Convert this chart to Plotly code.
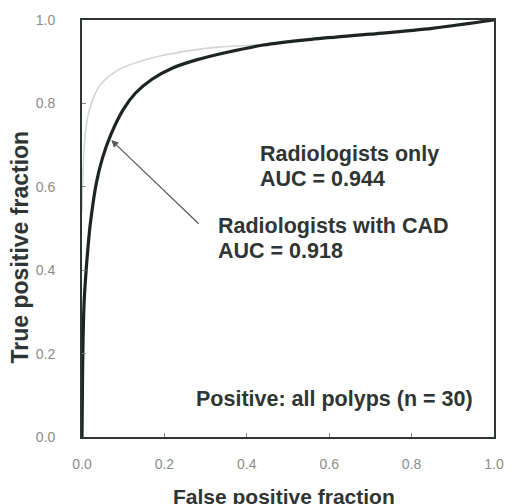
import plotly.graph_objects as go

# Radiologists with CAD (thick black curve)
cad_fpf = [0.0, 0.001, 0.002, 0.005, 0.010, 0.015, 0.020, 0.035, 0.050, 0.070, 0.100, 0.130, 0.170, 0.220, 0.280, 0.350, 0.440, 0.550, 0.700, 0.850, 1.0]
cad_tpf = [0.0, 0.110, 0.200, 0.320, 0.400, 0.460, 0.510, 0.610, 0.670, 0.725, 0.785, 0.825, 0.858, 0.885, 0.905, 0.922, 0.940, 0.953, 0.966, 0.980, 1.0]

# Radiologists only (light gray curve)
rad_fpf = [0.0, 0.002, 0.005, 0.010, 0.018, 0.028, 0.045, 0.067, 0.095, 0.138, 0.200, 0.257, 0.330, 0.440]
rad_tpf = [0.540, 0.620, 0.690, 0.745, 0.785, 0.815, 0.845, 0.866, 0.884, 0.900, 0.916, 0.926, 0.935, 0.941]

x_ticks = [0.0, 0.2, 0.4, 0.6, 0.8, 1.0]
y_ticks = [0.0, 0.2, 0.4, 0.6, 0.8, 1.0]
tick_labels = ["0.0", "0.2", "0.4", "0.6", "0.8", "1.0"]

FONT = "Liberation Sans, Arial, sans-serif"
DARK = "#2f3533"

fig = go.Figure()
fig.add_trace(go.Scatter(x=rad_fpf, y=rad_tpf, mode="lines",
                         line=dict(color="#d2d5d4", width=1.6, shape="spline", smoothing=0.8),
                         hoverinfo="skip", showlegend=False))
fig.add_trace(go.Scatter(x=cad_fpf, y=cad_tpf, mode="lines",
                         line=dict(color="#1e2422", width=3.2, shape="spline", smoothing=0.8),
                         hoverinfo="skip", showlegend=False))

axis_common = dict(range=[0, 1], showgrid=False, zeroline=False, showline=True,
                   linecolor=DARK, linewidth=2, mirror=True, ticks="inside",
                   ticklen=4, tickcolor="#888", tickwidth=1,
                   tickfont=dict(family=FONT, size=14, color="#8a8d8c"),
                   fixedrange=True)

fig.update_xaxes(tickvals=x_ticks, ticktext=tick_labels, ticklabelstandoff=13, **axis_common)
fig.update_yaxes(tickvals=y_ticks, ticktext=tick_labels, ticklabelstandoff=22, **axis_common)

bold = dict(family=FONT, size=21.5, color=DARK, weight="bold")
annotations = [
    dict(x=0.426, y=0.678, text="Radiologists only"),
    dict(x=0.426, y=0.619, text="AUC = 0.944"),
    dict(x=0.326, y=0.506, text="Radiologists with CAD"),
    dict(x=0.326, y=0.446, text="AUC = 0.918"),
    dict(x=0.271, y=0.091, text="Positive: all polyps (n = 30)"),
]
for a in annotations:
    a.update(xref="x", yref="y", showarrow=False, xanchor="left", yanchor="middle", font=bold)
    fig.add_annotation(**a)

# arrow pointing to the CAD curve
fig.add_annotation(x=0.071, y=0.712, ax=0.287, ay=0.508, xref="x", yref="y",
                   axref="x", ayref="y", text="", showarrow=True,
                   arrowhead=2, arrowsize=1.2, arrowwidth=1.2, arrowcolor="#555b59")

# axis titles
fig.add_annotation(x=0.49, y=-0.110, xref="paper", yref="paper", text="False positive fraction",
                   showarrow=False, xanchor="center", yanchor="top",
                   font=dict(family=FONT, size=21, color=DARK, weight="bold"))
fig.add_annotation(x=-0.150, y=0.455, xref="paper", yref="paper", text="True positive fraction",
                   showarrow=False, textangle=-90, xanchor="center", yanchor="middle",
                   font=dict(family=FONT, size=23, color=DARK, weight="bold"))

fig.update_layout(width=514, height=504, margin=dict(l=82, r=10, t=20, b=67),
                  paper_bgcolor="white", plot_bgcolor="white", showlegend=False)

fig.write_html("out.html", config={"displayModeBar": False})
